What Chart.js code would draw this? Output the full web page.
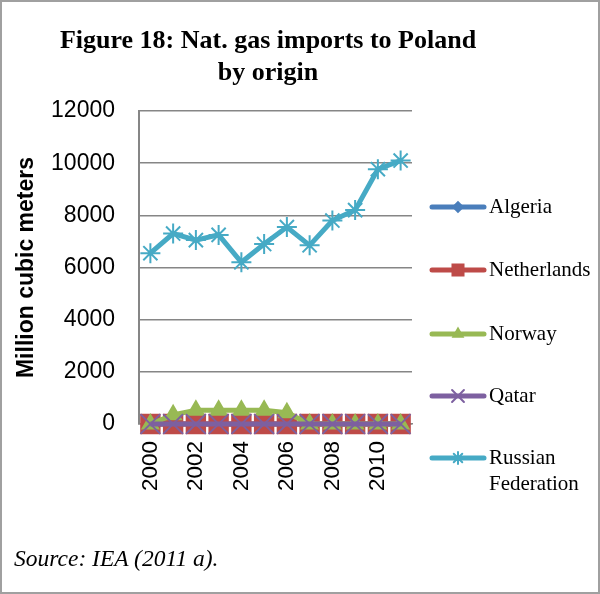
<!DOCTYPE html>
<html>
<head>
<meta charset="utf-8">
<script src="https://cdn.jsdelivr.net/npm/chart.js@4.4.1/dist/chart.umd.min.js"></script>
<style>
body{margin:0;background:#fff}
#frame{position:absolute;left:0;top:0;width:600px;height:594px;box-sizing:border-box;border:2px solid #a0a0a0;pointer-events:none}
#title{position:absolute;left:0;width:536px;top:24px;text-align:center;font:bold 26px "Liberation Serif";line-height:32px;color:#000}
#source{position:absolute;left:14px;top:545px;font:italic 23.5px "Liberation Serif";line-height:26px;color:#000}
canvas{position:absolute;left:0;top:0}
</style>
</head>
<body>
<canvas id="chart" width="600" height="594"></canvas>
<div id="title">Figure 18: Nat. gas imports to Poland<br>by origin</div>
<div id="source">Source: IEA (2011 a).</div>
<div id="frame"></div>
<script>
let years=["2000","2001","2002","2003","2004","2005","2006","2007","2008","2009","2010","2011"]

let algeria=[0,0,0,0,0,0,0,0,0,0,0,0]
let netherlands=[0,0,0,0,0,0,0,0,0,0,0,0]
let norway=[0,350,530,530,530,530,430,0,0,0,0,0]
let qatar=[0,0,0,0,0,0,0,0,0,0,0,0]
let russia=[6550,7300,7050,7250,6200,6900,7550,6850,7800,8200,9770,10100]

let yTicks=[0,2000,4000,6000,8000,10000,12000]

function series(label,data,color,style,radius,order){
return{
label:label,
data:data,
borderColor:color,
backgroundColor:color,
pointBackgroundColor:color,
pointBorderColor:color,
pointStyle:style,
pointRadius:radius,
pointBorderWidth:2,
borderWidth:5,
tension:0,
clip:false,
order:order
}
}

// legend drawn by hand: line + marker, like Excel
const excelLegend={
id:"excelLegend",
afterDraw(chart){
let ctx=chart.ctx
let rows=[207,270,334,396,458]
chart.data.datasets.forEach((ds,i)=>{
let y=rows[i]
ctx.save()
ctx.strokeStyle=ds.borderColor
ctx.lineWidth=5
ctx.lineCap="round"
ctx.beginPath()
ctx.moveTo(432,y)
ctx.lineTo(484,y)
ctx.stroke()
ctx.fillStyle=ds.borderColor
ctx.lineWidth=2
Chart.helpers.drawPoint(ctx,{pointStyle:ds.pointStyle,rotation:0,radius:ds.pointRadius*0.6,borderWidth:2},458,y)
ctx.restore()
ctx.fillStyle="#000"
ctx.font='21px "Liberation Serif"'
ctx.textBaseline="middle"
ctx.textAlign="left"
let parts=ds.label.split(" ")
if(parts.length>1){
ctx.fillText(parts[0],489,y)
ctx.fillText(parts[1],489,y+26)
}else{
ctx.fillText(ds.label,489,y)
}
})
}
}

new Chart(document.getElementById("chart"),{
type:"line",
data:{
labels:years,
datasets:[
series("Algeria",algeria,"#4a7ebb","rectRot",8,4),
series("Netherlands",netherlands,"#be4b48","rect",13,3),
series("Norway",norway,"#98b954","triangle",9,2),
series("Qatar",qatar,"#7d60a0","crossRot",14,1),
series("Russian Federation",russia,"#46aac5","star",10,0)
]
},
options:{
responsive:false,
animation:false,
layout:{padding:{left:0,top:111,right:188,bottom:100}},
plugins:{
legend:{display:false},
tooltip:{enabled:false},
title:{display:false}
},
scales:{
x:{
offset:true,
grid:{display:false,drawTicks:false},
border:{display:true,color:"#868686",width:1.5},
afterFit(s){s.height=70},
ticks:{
autoSkip:false,
maxRotation:90,
minRotation:90,
padding:17,
color:"#000",
font:{family:"Liberation Sans",size:22.5},
callback:function(v,i){return i%2==0?years[i]:""}
}
},
y:{
min:0,
max:12000,
afterFit(s){s.width=139},
afterBuildTicks(s){s.ticks=yTicks.map(v=>({value:v}))},
grid:{color:"#868686",lineWidth:1.5,drawTicks:false},
border:{display:true,color:"#868686",width:2},
ticks:{
padding:24,
color:"#000",
font:{family:"Liberation Sans",size:23},
callback:function(v){return String(v)}
},
title:{
display:true,
text:"Million cubic meters",
color:"#000",
font:{family:"Liberation Sans",size:23,weight:"bold"},
padding:{top:13,bottom:0}
}
}
}
},
plugins:[excelLegend]
})
</script>
</body>
</html>
